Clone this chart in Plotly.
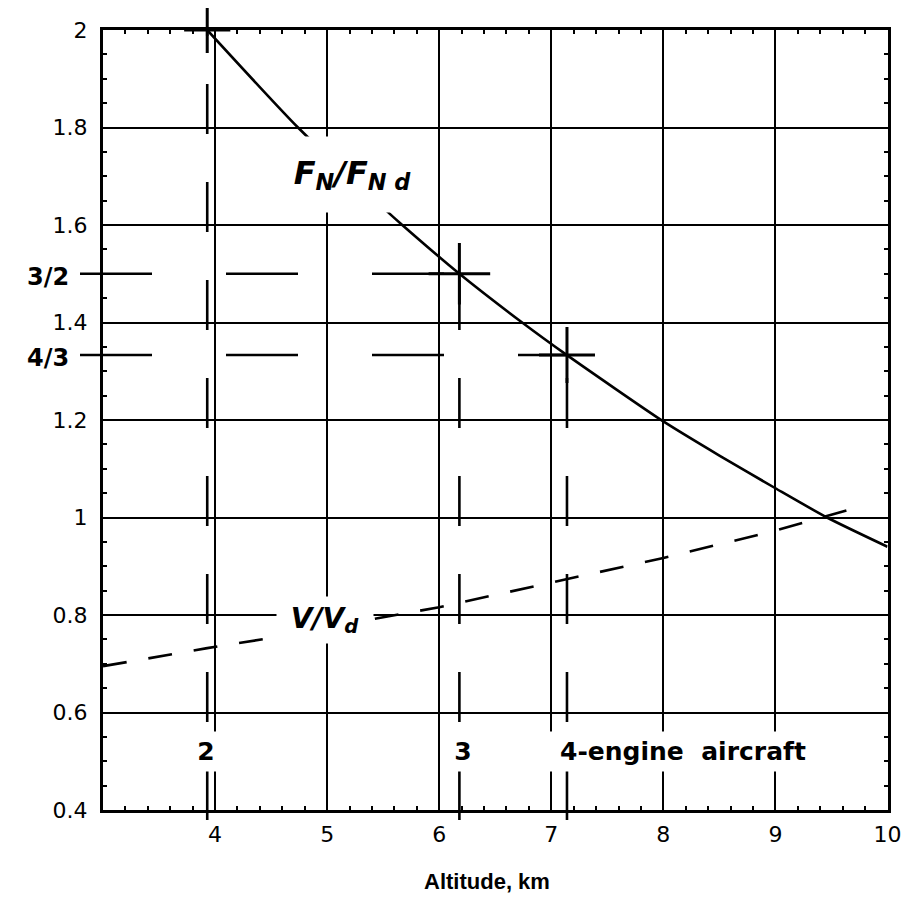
import plotly.graph_objects as go

# ---------------- data ----------------
altitude_fn = [3.93, 4.74, 5.52, 5.67, 6.18, 6.74, 7.14, 8.0, 8.5, 9.0, 9.46, 10.0]
fn_ratio = [2.0, 1.8, 1.631, 1.6, 1.5, 1.4, 1.333, 1.197, 1.127, 1.06, 1.0, 0.94]

altitude_v = [3.0, 3.93, 4.5, 5.0, 6.0, 7.0, 8.0, 9.0, 9.78]
v_ratio = [0.695, 0.732, 0.753, 0.775, 0.816, 0.866, 0.917, 0.973, 1.024]

engine_labels = ["2", "3", "4-engine  aircraft"]
cross_alt = [3.93, 6.18, 7.14]
cross_ratio = [2.0, 3 / 2, 4 / 3]
ratio_labels = {1.5: "3/2", 4 / 3: "4/3"}

x_ticks = [4, 5, 6, 7, 8, 9, 10]
x_tick_text = ["4", "5", "6", "7", "8", "9", "10"]
y_ticks = [0.4, 0.6, 0.8, 1.0, 1.2, 1.4, 1.6, 1.8, 2.0]
y_tick_text = ["0.4", "0.6", "0.8", "1", "1.2", "1.4", "1.6", "1.8", "2"]

# ---------------- layout geometry (page pixels) ----------------
OFF = 8                       # default page margin around the figure
W, H = 917 - 2 * OFF, 903 - 2 * OFF
FX0, FX1, FY0, FY1 = 103, 887.5, 30, 810          # frame in page pixels
ML, MR, MT, MB = 12, 2, 0, 52                     # margins
PX0, PX1 = OFF + ML, OFF + W - MR                 # plot area in page pixels
PY0, PY1 = OFF + MT, OFF + H - MB
XMIN, XMAX, YMIN, YMAX = 3, 10, 0.4, 2.0
kx = (FX1 - FX0) / (XMAX - XMIN)
ky = (FY1 - FY0) / (YMAX - YMIN)


def px2x(p):
    return XMIN + (p - FX0) / kx


def py2y(p):
    return YMAX - (p - FY0) / ky


x_dom = [(FX0 - PX0) / (PX1 - PX0), (FX1 - PX0) / (PX1 - PX0)]
y_dom = [(PY1 - FY1) / (PY1 - PY0), (PY1 - FY0) / (PY1 - PY0)]

# guide lines built from the cross points
h_start = px2x(80)
v_bottom = py2y(820)
hx, hy, vx, vy = [], [], [], []
for xa, ya in zip(cross_alt, cross_ratio):
    if ya < YMAX:
        hx += [h_start, xa, None]
        hy += [ya, ya, None]
    vx += [xa, xa, None]
    vy += [v_bottom, ya, None]

fig = go.Figure()

fig.add_trace(go.Scatter(x=altitude_fn, y=fn_ratio, mode="lines",
                         line=dict(color="black", width=2.6, shape="spline", smoothing=0.6),
                         xaxis="x", yaxis="y", showlegend=False, hoverinfo="skip"))
fig.add_trace(go.Scatter(x=altitude_v, y=v_ratio, mode="lines",
                         line=dict(color="black", width=2.6, dash="24px,22px"),
                         xaxis="x", yaxis="y", showlegend=False, hoverinfo="skip"))

fig.add_trace(go.Scatter(x=hx, y=hy, mode="lines",
                         line=dict(color="black", width=2.6, dash="72px,74px"),
                         xaxis="x2", yaxis="y2", showlegend=False, hoverinfo="skip"))
fig.add_trace(go.Scatter(x=vx, y=vy, mode="lines",
                         line=dict(color="black", width=2.6, dash="50px,48px"),
                         xaxis="x2", yaxis="y2", showlegend=False, hoverinfo="skip"))
fig.add_trace(go.Scatter(x=cross_alt, y=cross_ratio, mode="markers",
                         marker=dict(symbol="cross-thin", size=[33, 44, 40], color="black",
                                     opacity=1, line=dict(color="black", width=3)),
                         xaxis="x2", yaxis="y2", showlegend=False, hoverinfo="skip"))

axis_common = dict(
    showgrid=True, gridcolor="black", gridwidth=2,
    showline=True, linecolor="black", linewidth=3, mirror="ticks",
    ticks="inside", ticklen=5, tickwidth=2, tickcolor="black",
    zeroline=False, fixedrange=True,
    tickfont=dict(family="DejaVu Sans", size=22, color="black"),
)

annotations = []
# label boxes (white boxes break grid lines as in the original)
annotations.append(dict(x=px2x(352.5), y=py2y(174.5), xref="x", yref="y",
                        text="<b><i>F<sub>N</sub>/F<sub>N d</sub></i></b>", showarrow=False,
                        font=dict(family="DejaVu Sans", size=32, color="black"),
                        bgcolor="white", width=135, height=75, borderpad=0))
annotations.append(dict(x=px2x(325), y=py2y(620), xref="x", yref="y",
                        text="<b><i>V/V<sub>d</sub></i></b>", showarrow=False,
                        font=dict(family="DejaVu Sans", size=28, color="black"),
                        bgcolor="white", width=96, height=46, borderpad=0))
label_boxes = [(206, 28), (462.5, 24), (682.5, 272)]
for lab, (cx, bw) in zip(engine_labels, label_boxes):
    annotations.append(dict(x=px2x(cx), y=py2y(751.5), xref="x", yref="y",
                            text="<b>" + lab + "</b>", showarrow=False,
                            font=dict(family="DejaVu Sans", size=25, color="black"),
                            bgcolor="white", width=bw, height=39, borderpad=0))
for val, lab in ratio_labels.items():
    annotations.append(dict(x=px2x(71), y=val, xref="x2", yref="y2", xanchor="right",
                            text="<b>" + lab + "</b>", showarrow=False, yshift=-3,
                            font=dict(family="DejaVu Sans", size=24, color="black")))
annotations.append(dict(x=(487 - PX0) / (PX1 - PX0), y=(PY1 - 881) / (PY1 - PY0),
                        xref="paper", yref="paper", showarrow=False,
                        xanchor="center", yanchor="middle",
                        text="<b>Altitude, km</b>",
                        font=dict(family="Liberation Sans", size=22, color="black")))

fig.update_layout(
    width=W, height=H,
    margin=dict(l=ML, r=MR, t=MT, b=MB, autoexpand=False),
    paper_bgcolor="white", plot_bgcolor="rgba(0,0,0,0)",
    xaxis=dict(range=[XMIN, XMAX], domain=x_dom, anchor="y",
               tickvals=x_ticks, ticktext=x_tick_text, ticklabelstandoff=3,
               minor=dict(dtick=0.2, tick0=3, ticks="inside", ticklen=4, tickwidth=1.5,
                          tickcolor="black", showgrid=False),
               **axis_common),
    yaxis=dict(range=[YMIN, YMAX], domain=y_dom, anchor="x",
               tickvals=y_ticks, ticktext=y_tick_text, ticklabelstandoff=8,
               minor=dict(dtick=0.05, tick0=0.4, ticks="inside", ticklen=4, tickwidth=1.5,
                          tickcolor="black", showgrid=False),
               **axis_common),
    xaxis2=dict(range=[px2x(PX0), px2x(PX1)], domain=[0, 1], anchor="y2",
                visible=False, fixedrange=True),
    yaxis2=dict(range=[py2y(PY1), py2y(PY0)], domain=[0, 1], anchor="x2",
                visible=False, fixedrange=True),
    annotations=annotations,
    showlegend=False,
)

fig.write_html("out.html")
